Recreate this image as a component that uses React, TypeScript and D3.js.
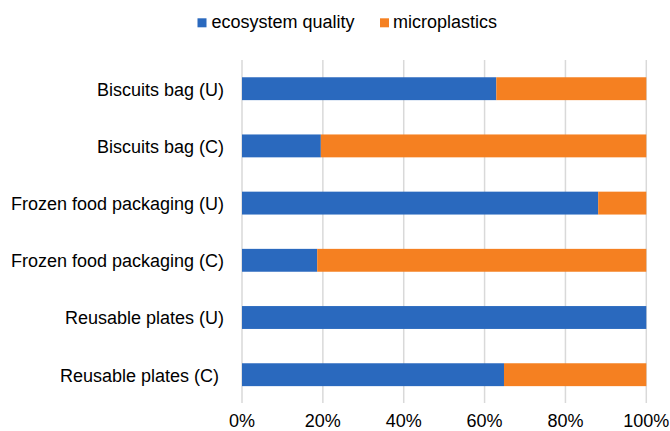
import React from "react";
import * as d3 from "d3";

const categories = [
  "Biscuits bag (U)",
  "Biscuits bag (C)",
  "Frozen food packaging (U)",
  "Frozen food packaging (C)",
  "Reusable plates (U)",
  "Reusable plates (C) ",
];
const ecosystemQuality = [62.9, 19.5, 88.1, 18.6, 100, 64.8];
const microplastics = [37.1, 80.5, 11.9, 81.4, 0, 35.2];
const seriesNames = ["ecosystem quality", "microplastics"];
const seriesColors = ["#2A69BE", "#F58021"];
const xTicks = [0, 20, 40, 60, 80, 100];

const W = 670;
const H = 431;
const FONT = "'Liberation Sans', Arial, sans-serif";

export default function App() {
  const x = d3.scaleLinear().domain([0, 100]).range([242, 646.3]);
  const y = d3.scaleBand<string>().domain(categories).range([60.1, 403.3]).paddingInner(0.6).paddingOuter(0.3);

  const rows = categories.map((c, i) => ({ cat: c, eco: ecosystemQuality[i], micro: microplastics[i] }));
  const stack = d3.stack<any>().keys(["eco", "micro"]);
  const stacked = stack(rows);

  return (
    <svg width={W} height={H} style={{ display: "block", position: "absolute", left: 0, top: 0 }} fontFamily={FONT}>
      <rect width={W} height={H} fill="#fff" />
      {xTicks.map((t) => (
        <line key={t} x1={x(t)} x2={x(t)} y1={60} y2={403} stroke="#d9d9d9" strokeWidth={1.5} />
      ))}
      {stacked.map((s, si) =>
        s.map((d, i) => {
          const w = x(d[1]) - x(d[0]);
          if (w <= 0) return null;
          return (
            <rect
              key={si + "-" + i}
              x={x(d[0])}
              y={y(categories[i])!}
              width={w}
              height={y.bandwidth()}
              fill={seriesColors[si]}
            />
          );
        })
      )}
      {categories.map((c) => (
        <text
          key={c}
          x={224}
          y={y(c)! + y.bandwidth() / 2 + 6.8}
          textAnchor="end"
          fontSize={18}
          fill="#000"
          style={{ whiteSpace: "pre" }}
        >
          {c}
        </text>
      ))}
      {xTicks.map((t) => (
        <text key={t} x={x(t)} y={426.5} textAnchor="middle" fontSize={18} fill="#000">
          {t + "%"}
        </text>
      ))}
      <g>
        <rect x={197.5} y={18.3} width={9} height={9} fill={seriesColors[0]} />
        <text x={211.5} y={28} fontSize={18} fill="#000">{seriesNames[0]}</text>
        <rect x={380} y={18.3} width={9} height={9} fill={seriesColors[1]} />
        <text x={393} y={28} fontSize={18} fill="#000">{seriesNames[1]}</text>
      </g>
    </svg>
  );
}
